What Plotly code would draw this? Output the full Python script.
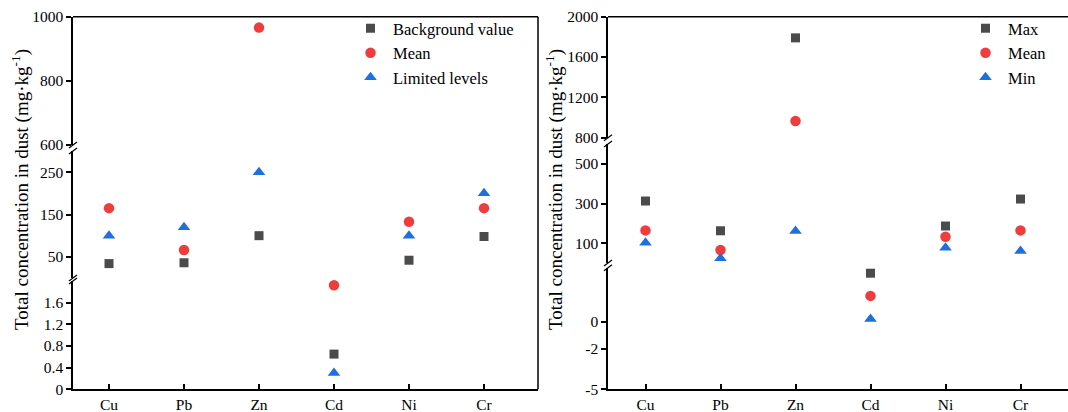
import plotly.graph_objects as go

# ---------------- data ----------------
elements = ["Cu", "Pb", "Zn", "Cd", "Ni", "Cr"]

# left panel
background_value = [34, 36, 100, 0.65, 42, 98]
mean_values = [165, 66, 966, 1.92, 133, 165]
limited_levels = [100, 120, 250, 0.3, 100, 200]

# right panel
max_values = [313, 163, 1790, 3.6, 187, 323]
min_values = [103, 24, 162, 0.2, 78, 61]

# tick labels
left_ticks_top = [600, 800, 1000]
left_ticks_mid = [50, 150, 250]
left_ticks_bot = [0, 0.4, 0.8, 1.2, 1.6]
right_ticks_top = [800, 1200, 1600, 2000]
right_ticks_mid = [100, 300, 500]
right_ticks_bot = [-5, -2, 0]

# segment ranges (axis breaks)
left_ranges = [(0, 2), (0, 300), (600, 1000)]
right_ranges = [(-5, 4), (0, 600), (800, 2000)]

# ---------------- layout helpers ----------------
W, H = 1068, 412
FONT = "Times New Roman, Liberation Serif, DejaVu Serif, serif"
GRAY = "#4b4b4b"
RED = "#ef3d3d"
BLUE = "#1f6fdf"

def px(x):
    return x / W

def py(y):
    return 1 - y / H

# pixel geometry
L_X0, L_X1 = 73, 538
R_X0, R_X1 = 608, 1068
left_seg_px = [(389.3, 281.0), (278.0, 151.0), (145.0, 16.7)]
right_seg_px = [(389.3, 267.8), (263.1, 144.1), (137.7, 16.7)]

fig = go.Figure()

def seg_index(v, ranges):
    if v <= ranges[0][1]:
        return 0
    if v <= ranges[1][1]:
        return 1
    return 2

def add_series(values, name, symbol, color, size, yaxes, ranges, xaxis, legend):
    for k, ya in enumerate(yaxes):
        ys = [v if seg_index(v, ranges) == k else None for v in values]
        fig.add_trace(go.Scatter(
            x=elements, y=ys, mode="markers", name=name,
            marker=dict(symbol=symbol, color=color, size=size, line=dict(width=0)),
            xaxis=xaxis, yaxis=ya, showlegend=(k == 0), legendgroup=legend + name,
            legend=legend, cliponaxis=False,
        ))

left_y = ["y", "y2", "y3"]
right_y = ["y4", "y5", "y6"]

SQ, CI, TR = 9, 10.5, 11

add_series(background_value, "Background value", "square", GRAY, SQ, left_y, left_ranges, "x", "legend")
add_series(mean_values, "Mean", "circle", RED, CI, left_y, left_ranges, "x", "legend")
add_series(limited_levels, "Limited levels", "triangle-up", BLUE, TR, left_y, left_ranges, "x", "legend")

add_series(max_values, "Max", "square", GRAY, SQ, right_y, right_ranges, "x2", "legend2")
add_series(mean_values, "Mean", "circle", RED, CI, right_y, right_ranges, "x2", "legend2")
add_series(min_values, "Min", "triangle-up", BLUE, TR, right_y, right_ranges, "x2", "legend2")

tickfont = dict(family=FONT, size=15.5, color="black")

def yaxis_cfg(domain_px, rng, ticks, anchor):
    return dict(
        domain=[py(domain_px[0]), py(domain_px[1])], range=list(rng), anchor=anchor,
        tickvals=ticks, ticktext=[str(t) for t in ticks],
        showline=True, linecolor="black", linewidth=1.5,
        ticks="outside", ticklen=5, tickwidth=1.5, tickcolor="black",
        showgrid=False, zeroline=False, tickfont=tickfont, automargin=False,
    )

def xaxis_cfg(x0, x1, anchor, rng):
    return dict(
        domain=[px(x0), min(1.0, px(x1))], anchor=anchor, type="category",
        categoryorder="array", categoryarray=elements, range=rng,
        showline=True, linecolor="black", linewidth=1.5,
        ticks="inside", ticklen=6, tickwidth=1.5, tickcolor="black",
        showgrid=False, zeroline=False, tickfont=tickfont,
        automargin=False,
    )

legend_font = dict(family=FONT, size=16.5, color="black")

layout = dict(
    width=W, height=H, margin=dict(l=0, r=0, t=0, b=0, pad=0, autoexpand=False),
    plot_bgcolor="white", paper_bgcolor="white",
    font=dict(family=FONT, size=15, color="black"),
    xaxis=xaxis_cfg(L_X0, L_X1, "y", [-0.48, -0.48 + (L_X1 - L_X0) / 75.0]),
    xaxis2=xaxis_cfg(R_X0, R_X1, "y4", [-0.5, -0.5 + (R_X1 - R_X0) / 75.0]),
    yaxis=yaxis_cfg(left_seg_px[0], left_ranges[0], left_ticks_bot, "x"),
    yaxis2=yaxis_cfg(left_seg_px[1], left_ranges[1], left_ticks_mid, "x"),
    yaxis3=yaxis_cfg(left_seg_px[2], left_ranges[2], left_ticks_top, "x"),
    yaxis4=yaxis_cfg(right_seg_px[0], right_ranges[0], right_ticks_bot, "x2"),
    yaxis5=yaxis_cfg(right_seg_px[1], right_ranges[1], right_ticks_mid, "x2"),
    yaxis6=yaxis_cfg(right_seg_px[2], right_ranges[2], right_ticks_top, "x2"),
    legend=dict(x=px(348), y=py(11), xanchor="left", yanchor="top",
                font=legend_font, itemwidth=35,
                bgcolor="rgba(0,0,0,0)", tracegroupgap=0),
    legend2=dict(x=px(963), y=py(11), xanchor="left", yanchor="top",
                 font=legend_font, itemwidth=35,
                 bgcolor="rgba(0,0,0,0)", tracegroupgap=0),
)
fig.update_layout(**layout)

shapes = []
def line(x0, y0, x1, y1, w=1.5):
    shapes.append(dict(type="line", xref="paper", yref="paper",
                       x0=px(x0), y0=py(y0), x1=px(x1), y1=py(y1),
                       line=dict(color="black", width=w)))

# frames
line(L_X0, 16.7, L_X1, 16.7)
line(L_X1, 16.7, L_X1, 389.3)
line(R_X0, 16.7, R_X1, 16.7)

# axis-break marks
def breaks(xa, segs):
    for lower, upper in zip(segs[:-1], segs[1:]):
        for yb in (lower[1], upper[0]):
            line(xa - 4, yb + 3, xa + 4, yb - 3, 1.2)

breaks(L_X0, left_seg_px)
breaks(R_X0, right_seg_px)
fig.update_layout(shapes=shapes)

title = "Total concentration in dust (mg·kg<sup>-1</sup>)"
for xt in (20, 554):
    fig.add_annotation(x=px(xt), y=py(190), xref="paper", yref="paper",
                       text=title, textangle=-90, showarrow=False,
                       font=dict(family=FONT, size=19, color="black"),
                       xanchor="center", yanchor="middle")

fig.write_html("out.html")
